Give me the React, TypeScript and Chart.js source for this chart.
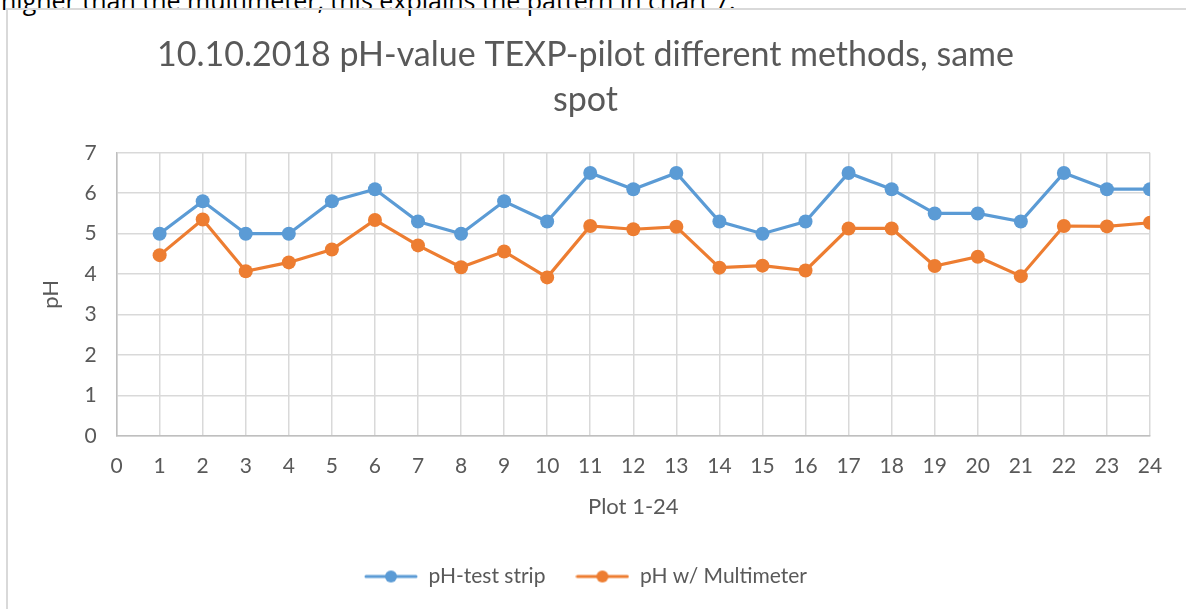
import React, { useEffect, useRef } from "react";
import { Chart, registerables } from "chart.js";

Chart.register(...registerables);

const plots = [1, 2, 3, 4, 5, 6, 7, 8, 9, 10, 11, 12, 13, 14, 15, 16, 17, 18, 19, 20, 21, 22, 23, 24];
const stripValues = [5.0, 5.8, 5.0, 5.0, 5.8, 6.1, 5.3, 5.0, 5.8, 5.3, 6.5, 6.1, 6.5, 5.3, 5.0, 5.3, 6.5, 6.1, 5.5, 5.5, 5.3, 6.5, 6.1, 6.1];
const meterValues = [4.47, 5.35, 4.07, 4.29, 4.61, 5.34, 4.71, 4.17, 4.56, 3.92, 5.19, 5.11, 5.17, 4.16, 4.21, 4.09, 5.13, 5.13, 4.2, 4.43, 3.95, 5.19, 5.18, 5.27];
const titleLines = ["10.10.2018 pH-value TEXP-pilot different methods, same", "spot"];
const seriesNames = ["pH-test strip", "pH w/ Multimeter"];
const seriesColors = ["#5B9BD5", "#ED7D31"];

const FONT = "Lato, 'Open Sans', sans-serif";

function legendIcon(color: string): HTMLCanvasElement {
  const c = document.createElement("canvas");
  c.width = 54;
  c.height = 14;
  const ctx = c.getContext("2d")!;
  ctx.strokeStyle = color;
  ctx.lineWidth = 3;
  ctx.lineCap = "round";
  ctx.beginPath();
  ctx.moveTo(2, 7);
  ctx.lineTo(52, 7);
  ctx.stroke();
  ctx.fillStyle = color;
  ctx.beginPath();
  ctx.arc(27, 7, 6, 0, Math.PI * 2);
  ctx.fill();
  return c;
}

export default function App() {
  const ref = useRef<HTMLCanvasElement | null>(null);
  useEffect(() => {
    if (!ref.current) return;
    const icons = seriesColors.map(legendIcon);
    const mk = (vals: number[]) => plots.map((p, i) => ({ x: p, y: vals[i] }));
    const chart = new Chart(ref.current, {
      type: "line",
      data: {
        datasets: [
          {
            label: seriesNames[0],
            data: mk(stripValues),
            borderColor: seriesColors[0],
            backgroundColor: seriesColors[0],
            borderWidth: 3.2,
            pointRadius: 7,
            pointHoverRadius: 7,
            pointBorderWidth: 0,
            tension: 0,
          },
          {
            label: seriesNames[1],
            data: mk(meterValues),
            borderColor: seriesColors[1],
            backgroundColor: seriesColors[1],
            borderWidth: 3.2,
            pointRadius: 7,
            pointHoverRadius: 7,
            pointBorderWidth: 0,
            tension: 0,
          },
        ],
      },
      options: {
        animation: false,
        responsive: false,
        maintainAspectRatio: false,
        layout: { padding: { left: 11, right: 36, top: 0, bottom: 12 } },
        plugins: {
          title: {
            display: true,
            text: titleLines,
            color: "#595959",
            font: { family: FONT, size: 34, weight: "normal", lineHeight: 1.32 },
            padding: { top: 23, bottom: 30 },
          },
          legend: {
            position: "bottom",
            labels: {
              color: "#595959",
              font: { family: FONT, size: 21 },
              usePointStyle: true,
              pointStyleWidth: 54,
              padding: 30,
              generateLabels: (ch: any) =>
                ch.data.datasets.map((d: any, i: number) => ({
                  text: d.label,
                  fillStyle: seriesColors[i],
                  strokeStyle: seriesColors[i],
                  lineWidth: 0,
                  pointStyle: icons[i],
                  datasetIndex: i,
                  hidden: false,
                  fontColor: "#595959",
                })),
            },
          },
          tooltip: { enabled: false },
        },
        scales: {
          x: {
            type: "linear",
            min: 0,
            max: 24,
            ticks: { stepSize: 1, color: "#595959", font: { family: FONT, size: 21 }, padding: 18 },
            grid: { color: "#d9d9d9", lineWidth: 1.5, drawTicks: false },
            border: { color: "#bfbfbf", width: 1.5 },
            title: { display: true, text: "Plot 1-24", color: "#595959", font: { family: FONT, size: 22, lineHeight: 0.9 }, padding: { top: 0, bottom: 19 } },
          },
          y: {
            min: 0,
            max: 7,
            ticks: { stepSize: 1, color: "#595959", font: { family: FONT, size: 21 }, padding: 20 },
            grid: { color: "#d9d9d9", lineWidth: 1.5, drawTicks: false },
            border: { color: "#bfbfbf", width: 1.5 },
            title: { display: true, text: "pH", color: "#595959", font: { family: FONT, size: 22 }, padding: { top: 17, bottom: 0 } },
          },
        },
      },
    });
    return () => chart.destroy();
  }, []);

  return (
    <div style={{ position: "fixed", left: 0, top: 0, width: 1186, height: 609, overflow: "hidden", background: "#fff" }}>
      <div
        style={{
          position: "absolute",
          left: 1,
          top: -17,
          fontFamily: "'Open Sans', sans-serif",
          fontSize: 25,
          color: "#000",
          whiteSpace: "nowrap",
        }}
      >
        higher than the multimeter, this explains the pattern in chart 7.
      </div>
      <div
        style={{
          position: "absolute",
          left: 6,
          top: 8,
          width: 1300,
          height: 700,
          border: "2px solid #d9d9d9",
          boxSizing: "border-box",
        }}
      />
      <canvas ref={ref} width={1176} height={599} style={{ position: "absolute", left: 10, top: 10, width: 1176, height: 599 }} />
    </div>
  );
}
